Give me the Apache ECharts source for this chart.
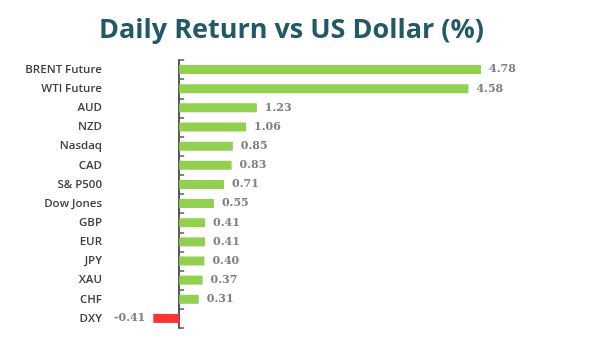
<!DOCTYPE html>
<html><head><meta charset="utf-8">
<script src="https://cdn.jsdelivr.net/npm/echarts@6/dist/echarts.min.js"></script>
<style>html,body{margin:0;padding:0;background:#fff}#c{width:600px;height:356px}</style>
</head><body><div id="c"></div>
<script>
const categories = ["BRENT Future","WTI Future","AUD","NZD","Nasdaq","CAD","S& P500","Dow Jones","GBP","EUR","JPY","XAU","CHF","DXY"];
const values = [4.78,4.58,1.23,1.06,0.85,0.83,0.71,0.55,0.41,0.41,0.40,0.37,0.31,-0.41];
const titleText = "Daily Return vs US Dollar (%)";
const posColor = "#92D050", negColor = "#FF3333";

const chart = echarts.init(document.getElementById('c'));
chart.setOption({
  animation: false,
  title: {text: titleText, left: 94, top: 12,
    textStyle: {fontFamily: 'Open Sans', fontWeight: 'bold', fontSize: 27, color: '#215968'}},
  grid: {left: 116, right: 105, top: 60, height: 268, containLabel: false, outerBoundsMode: 'none'},
  xAxis: {type: 'value', min: -1, max: 5, show: false},
  yAxis: {type: 'category', data: categories, inverse: true,
    axisLine: {onZero: true, lineStyle: {color: '#595959', width: 2}},
    axisTick: {show: true, inside: true, length: 5, lineStyle: {color: '#595959', width: 1.5}},
    axisLabel: {margin: 14, color: '#404040', fontFamily: 'Open Sans', fontWeight: 600, fontSize: 11.5}},
  series: [{type: 'bar', barWidth: 9,
    data: values.map(v => ({value: v, itemStyle: {color: v < 0 ? negColor : posColor},
      label: {position: v < 0 ? 'left' : 'right'}})),
    label: {show: true, distance: 8, color: '#7F7F7F', fontFamily: 'DejaVu Serif', fontWeight: 'bold', fontSize: 11,
      formatter: p => p.value.toFixed(2)}}]
});
</script></body></html>
